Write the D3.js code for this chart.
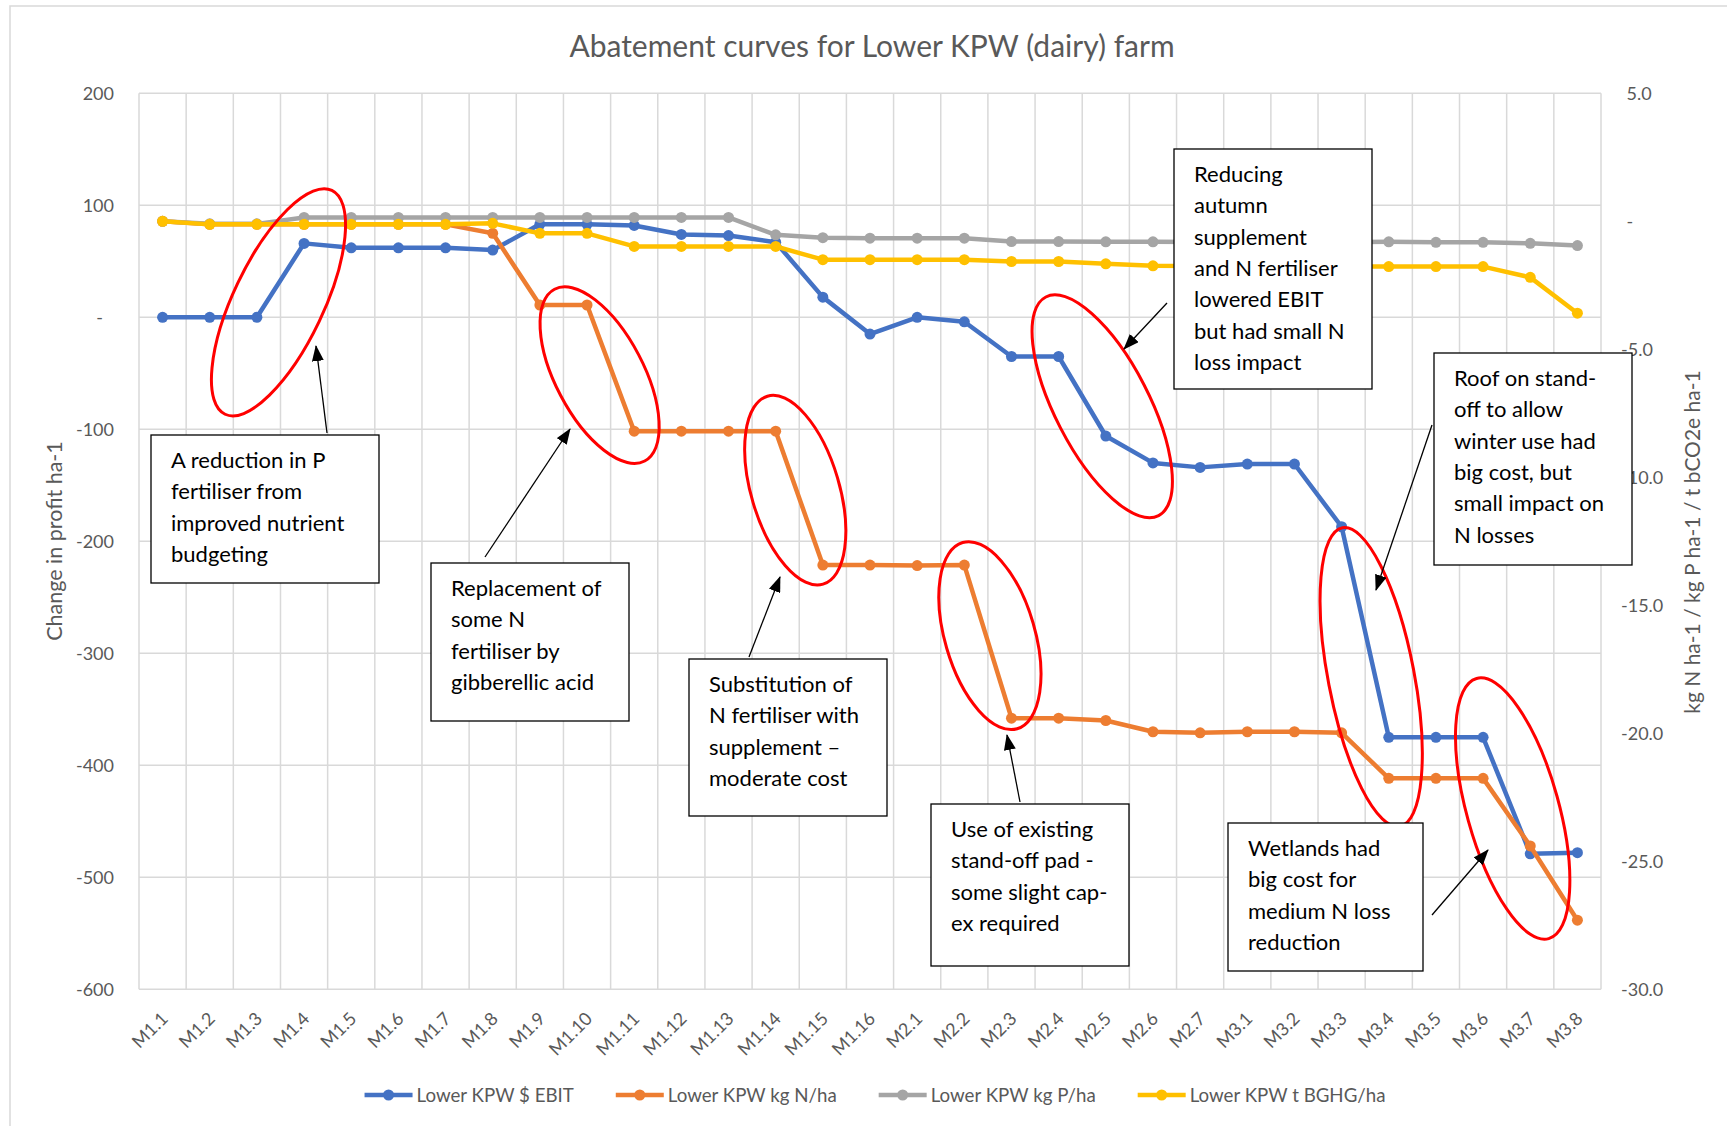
<!DOCTYPE html>
<html>
<head>
<meta charset="utf-8" />
<title>Abatement curves for Lower KPW (dairy) farm</title>
<style>
body { margin: 0; background: #fff; }
svg text { font-family: Lato, "Open Sans", sans-serif; }
</style>
</head>
<body>
<div id="chart"></div>
<script src="https://d3js.org/d3.v7.min.js"></script>
<script>
// categories (mitigation steps)
var categories = ["M1.1","M1.2","M1.3","M1.4","M1.5","M1.6","M1.7","M1.8","M1.9","M1.10",
  "M1.11","M1.12","M1.13","M1.14","M1.15","M1.16",
  "M2.1","M2.2","M2.3","M2.4","M2.5","M2.6","M2.7",
  "M3.1","M3.2","M3.3","M3.4","M3.5","M3.6","M3.7","M3.8"];

// $ EBIT, left axis
var ebit = [0, 0, 0, 66, 62, 62, 62, 60, 83, 83, 82, 74, 73, 67, 18, -15,
  0, -4, -35, -35, -106, -130, -134,
  -131, -131, -187, -375, -375, -375, -479, -478];
// kg N/ha, right axis
var nLoss = [0, -0.12, -0.12, -0.12, -0.12, -0.12, -0.12, -0.47, -3.27, -3.27, -8.2, -8.2, -8.2, -8.2, -13.43, -13.43,
  -13.45, -13.43, -19.41, -19.41, -19.5, -19.94, -19.98,
  -19.94, -19.94, -19.98, -21.76, -21.76, -21.76, -24.4, -27.3];
// kg P/ha, right axis
var pLoss = [0, -0.1, -0.1, 0.15, 0.15, 0.15, 0.15, 0.15, 0.15, 0.15, 0.15, 0.15, 0.15, -0.53, -0.64, -0.66,
  -0.66, -0.66, -0.79, -0.79, -0.8, -0.8, -0.81,
  -0.82, -0.82, -0.82, -0.8, -0.82, -0.82, -0.86, -0.95];
// t BGHG/ha, right axis
var ghg = [0, -0.12, -0.12, -0.12, -0.12, -0.12, -0.12, -0.08, -0.47, -0.47, -0.98, -0.98, -0.98, -0.98, -1.5, -1.5,
  -1.5, -1.5, -1.57, -1.57, -1.66, -1.74, -1.75,
  -1.76, -1.76, -1.77, -1.77, -1.77, -1.77, -2.19, -3.59];

var leftTicks = [200, 100, 0, -100, -200, -300, -400, -500, -600];
var rightTicks = [5, 0, -5, -10, -15, -20, -25, -30];
var seriesNames = ["Lower KPW $ EBIT", "Lower KPW kg N/ha", "Lower KPW kg P/ha", "Lower KPW t BGHG/ha"];
var seriesColors = ["#4472c4", "#ed7d31", "#a5a5a5", "#ffc000"];

var title = "Abatement curves for Lower KPW (dairy) farm";
var leftTitle = "Change in profit ha-1";
var rightTitle = "kg N ha-1 / kg P ha-1 / t bCO2e ha-1";

// red rings: the jump they surround, plus hand-drawn offsets / size / tilt
var rings = [
  {s: 0, from: "M1.3", to: "M1.4", dx: -2, dy: 22, rx: 45, ry: 124, rot: 25.5},
  {s: 1, from: "M1.10", to: "M1.11", dx: -11, dy: 7, rx: 44, ry: 97, rot: -27.7},
  {s: 1, from: "M1.14", to: "M1.15", dx: -4, dy: -8, rx: 44, ry: 98, rot: -16.5},
  {s: 1, from: "M2.2", to: "M2.3", dx: 2, dy: -6, rx: 45, ry: 97, rot: -16.3},
  {s: 0, from: "M2.4", to: "M2.5", dx: 20, dy: 10, rx: 47, ry: 123, rot: -27.3},
  {s: 0, from: "M3.3", to: "M3.4", dx: 6, dy: 45, rx: 43, ry: 152, rot: -10.9},
  {s: 0, from: "M3.6", to: "M3.7", dx: 6, dy: 13, rx: 46, ry: 135, rot: -15.5}
];

// callout boxes and their arrows
var notes = [
  {x: 151, y: 435, w: 228, h: 148, lines: ["A reduction in P", "fertiliser from", "improved nutrient", "budgeting"], arrow: [327, 433, 316, 346]},
  {x: 431, y: 563, w: 198, h: 158, lines: ["Replacement of", "some N", "fertiliser by", "gibberellic acid"], arrow: [485, 557, 570, 429]},
  {x: 689, y: 659, w: 198, h: 157, lines: ["Substitution of", "N fertiliser with", "supplement \u2013", "moderate cost"], arrow: [749, 657, 780, 577]},
  {x: 931, y: 804, w: 198, h: 162, lines: ["Use of existing", "stand-off pad -", "some slight cap-", "ex required"], arrow: [1020, 802, 1007, 735]},
  {x: 1174, y: 149, w: 198, h: 240, lines: ["Reducing", "autumn", "supplement", "and N fertiliser", "lowered EBIT", "but had small N", "loss impact"], arrow: [1167, 303, 1124, 349]},
  {x: 1434, y: 353, w: 198, h: 212, lines: ["Roof on stand-", "off to allow", "winter use had", "big cost, but", "small impact on", "N losses"], arrow: [1432, 425, 1376, 590]},
  {x: 1228, y: 823, w: 195, h: 148, lines: ["Wetlands had", "big cost for", "medium N loss", "reduction"], arrow: [1432, 915, 1488, 850]}
];

var W = 1727, H = 1126;
var plot = {left: 139, right: 1601, top: 93.3, bottom: 989.3};
var grey = "#595959";

var svg = d3.select("#chart").append("svg")
  .attr("width", W).attr("height", H);

svg.append("rect").attr("x", 10).attr("y", 6).attr("width", 1800).attr("height", 1200)
  .attr("fill", "#fff").attr("stroke", "#d9d9d9").attr("stroke-width", 1.5);

var x = d3.scaleBand().domain(categories).range([plot.left, plot.right]);
var yL = d3.scaleLinear().domain([-600, 200]).range([plot.bottom, plot.top]);
var yR = d3.scaleLinear().domain([-30, 5]).range([plot.bottom, plot.top]);
var cx = function(c) { return x(c) + x.bandwidth() / 2; };

var series = [
  {name: seriesNames[0], values: ebit, y: yL, color: seriesColors[0]},
  {name: seriesNames[1], values: nLoss, y: yR, color: seriesColors[1]},
  {name: seriesNames[2], values: pLoss, y: yR, color: seriesColors[2]},
  {name: seriesNames[3], values: ghg, y: yR, color: seriesColors[3]}
];

// grid
var grid = svg.append("g").attr("stroke", "#d9d9d9").attr("stroke-width", 1.5);
grid.selectAll(".h").data(leftTicks).enter().append("line")
  .attr("x1", plot.left).attr("x2", plot.right)
  .attr("y1", d => yL(d)).attr("y2", d => yL(d));
grid.selectAll(".v").data(categories.map(c => x(c)).concat([plot.right])).enter().append("line")
  .attr("x1", d => d).attr("x2", d => d)
  .attr("y1", plot.top).attr("y2", plot.bottom);

// axes (plain hyphen for negatives, "-" for zero like Excel accounting)
var loc = d3.formatLocale({decimal: ".", thousands: ",", grouping: [3], currency: ["$", ""], minus: "-"});
var fmtL = d => d === 0 ? "-" : loc.format("d")(d);
var fmtR = d => d === 0 ? "-" : loc.format(".1f")(d);

var axL = svg.append("g").attr("transform", "translate(" + plot.left + ",0)")
  .call(d3.axisLeft(yL).tickValues(leftTicks).tickSize(0).tickPadding(25).tickFormat(fmtL));
var axR = svg.append("g").attr("transform", "translate(" + plot.right + ",0)")
  .call(d3.axisRight(yR).tickValues(rightTicks).tickSize(0).tickPadding(20).tickFormat(fmtR));
var axB = svg.append("g").attr("transform", "translate(0," + plot.bottom + ")")
  .call(d3.axisBottom(x).tickSize(0));

[axL, axR, axB].forEach(function(a) {
  a.select(".domain").remove();
  a.selectAll("text").attr("fill", grey).style("font-size", "18px").style("font-family", "Lato, sans-serif");
});
axL.selectAll("text").attr("dy", "0.35em").attr("dx", d => d === 0 ? -11 : 0);
axR.selectAll("text").attr("dy", "0.35em").attr("dx", d => d >= 0 ? 5.5 : 0);
axB.selectAll("text")
  .attr("x", 0).attr("y", 0).attr("dy", "0.35em")
  .attr("text-anchor", "end")
  .attr("transform", "translate(2,26) rotate(-45)");

// series
series.forEach(function(s) {
  var pts = categories.map((c, i) => ({c: c, v: s.values[i]}));
  var line = d3.line().x(d => cx(d.c)).y(d => s.y(d.v));
  var g = svg.append("g");
  g.append("path").datum(pts)
    .attr("d", line).attr("fill", "none")
    .attr("stroke", s.color).attr("stroke-width", 4.5).attr("stroke-linejoin", "round");
  g.selectAll("circle").data(pts).enter().append("circle")
    .attr("cx", d => cx(d.c)).attr("cy", d => s.y(d.v)).attr("r", 5.5)
    .attr("fill", s.color);
});

// title and axis titles
svg.append("text").attr("x", 872).attr("y", 57).attr("text-anchor", "middle")
  .attr("fill", grey).style("font-size", "30px").text(title);
svg.append("text").attr("transform", "translate(62,541) rotate(-90)").attr("text-anchor", "middle")
  .attr("fill", grey).style("font-size", "21.5px").text(leftTitle);
svg.append("text").attr("transform", "translate(1700,542) rotate(-90)").attr("text-anchor", "middle")
  .attr("fill", grey).style("font-size", "21px").text(rightTitle);

// legend
var legend = svg.append("g");
var lx = 0;
series.forEach(function(s, i) {
  var item = legend.append("g").attr("transform", "translate(" + lx + ",0)");
  item.append("line").attr("x1", 0).attr("x2", 48).attr("y1", 0).attr("y2", 0)
    .attr("stroke", s.color).attr("stroke-width", 4.5);
  item.append("circle").attr("cx", 24).attr("cy", 0).attr("r", 5.5).attr("fill", s.color);
  var t = item.append("text").attr("x", 52).attr("dy", "0.35em").attr("fill", grey)
    .style("font-size", "18.7px").text(s.name);
  lx += 52 + t.node().getComputedTextLength() + 42;
});
lx -= 42;
legend.attr("transform", "translate(" + (875 - lx / 2) + ",1095)");

// red rings
svg.append("g").selectAll("ellipse").data(rings).enter().append("ellipse")
  .attr("rx", d => d.rx).attr("ry", d => d.ry)
  .attr("transform", function(d) {
    var s = series[d.s];
    var i0 = categories.indexOf(d.from), i1 = categories.indexOf(d.to);
    var mx = (cx(d.from) + cx(d.to)) / 2 + d.dx;
    var my = (s.y(s.values[i0]) + s.y(s.values[i1])) / 2 + d.dy;
    return "translate(" + mx + "," + my + ") rotate(" + d.rot + ")";
  })
  .attr("fill", "none").attr("stroke", "#ff0000").attr("stroke-width", 3);

// arrows + callouts
svg.append("defs").append("marker").attr("id", "head")
  .attr("viewBox", "0 0 16 12").attr("refX", 15).attr("refY", 6)
  .attr("markerWidth", 16).attr("markerHeight", 12)
  .attr("markerUnits", "userSpaceOnUse").attr("orient", "auto")
  .append("path").attr("d", "M0,0 L16,6 L0,12 Z").attr("fill", "#000");

var ng = svg.append("g");
ng.selectAll("line").data(notes).enter().append("line")
  .attr("x1", d => d.arrow[0]).attr("y1", d => d.arrow[1])
  .attr("x2", d => d.arrow[2]).attr("y2", d => d.arrow[3])
  .attr("stroke", "#000").attr("stroke-width", 1.3).attr("marker-end", "url(#head)");

var box = ng.selectAll(".note").data(notes).enter().append("g").attr("class", "note");
box.append("rect").attr("x", d => d.x).attr("y", d => d.y).attr("width", d => d.w).attr("height", d => d.h)
  .attr("fill", "#fff").attr("stroke", "#000").attr("stroke-width", 1.3);
box.append("text").attr("fill", "#000").style("font-size", "22px")
  .each(function(d) {
    var t = d3.select(this);
    d.lines.forEach(function(l, k) {
      t.append("tspan").attr("x", d.x + 20).attr("y", d.y + 33 + k * 31.3).text(l);
    });
  });
</script>
</body>
</html>
